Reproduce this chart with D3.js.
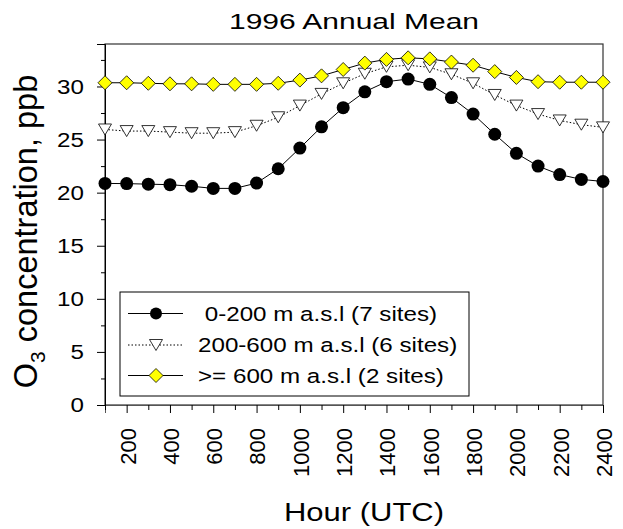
<!DOCTYPE html>
<html><head><meta charset="utf-8">
<script src="https://cdn.jsdelivr.net/npm/d3@7"></script>
<style>body{margin:0;background:#fff}svg{display:block}text{font-family:"Liberation Sans",Arial,sans-serif;fill:#000}</style>
</head><body><div id="chart"></div>
<script>
const hours = [100,200,300,400,500,600,700,800,900,1000,1100,1200,1300,1400,1500,1600,1700,1800,1900,2000,2100,2200,2300,2400];
const low = [20.87,20.85,20.8,20.75,20.6,20.4,20.4,20.9,22.25,24.2,26.2,28.0,29.5,30.45,30.7,30.2,28.95,27.4,25.5,23.7,22.5,21.7,21.25,21.05];
const mid = [25.95,25.8,25.8,25.7,25.6,25.6,25.7,26.3,27.1,28.2,29.3,30.3,31.2,31.85,32.0,31.8,31.15,30.3,29.2,28.2,27.4,26.8,26.4,26.15];
const high = [30.35,30.35,30.3,30.25,30.25,30.2,30.2,30.2,30.3,30.6,31.0,31.6,32.2,32.55,32.7,32.6,32.3,32.0,31.4,30.85,30.45,30.4,30.4,30.4];
const seriesNames = [" 0-200 m a.s.l (7 sites)","200-600 m a.s.l (6 sites)",">= 600 m a.s.l (2 sites)"];
const xTicks = [200,400,600,800,1000,1200,1400,1600,1800,2000,2200,2400];
const yTicks = [0,5,10,15,20,25,30];
const title = "1996 Annual Mean";

const W=623,H=529, SX=1.24;
const m={l:105,r:603,t:44,b:405};
const svg=d3.select("#chart").append("svg").attr("width",W).attr("height",H);
const x=d3.scaleLinear().domain([100,2400]).range([m.l,m.r]);
const y=d3.scaleLinear().domain([0,34]).range([m.b,m.t]);

// frame
svg.append("rect").attr("x",m.l).attr("y",m.t).attr("width",m.r-m.l).attr("height",m.b-m.t)
  .attr("fill","none").attr("stroke","#333").attr("stroke-width",1.2);

// y axis (ticks only; labels drawn stretched)
const yAx=svg.append("g").attr("transform",`translate(${m.l},0)`)
  .call(d3.axisLeft(y).tickValues(yTicks).tickSize(8).tickFormat(""));
yAx.select(".domain").attr("stroke","#000");
svg.append("g").attr("transform",`translate(${m.l},0)`)
  .call(d3.axisLeft(y).tickValues(d3.range(2.5,34,5)).tickSize(4).tickFormat(""))
  .select(".domain").remove();
svg.append("g").selectAll("text").data(yTicks).join("text")
  .attr("transform",d=>`translate(84,${y(d)}) scale(${SX},1)`)
  .attr("text-anchor","end").attr("dy","0.36em").style("font-size","19.5px").text(d=>d);

// x axis
const xAx=svg.append("g").attr("transform",`translate(0,${m.b})`)
  .call(d3.axisBottom(x).tickValues(xTicks).tickSize(8).tickFormat(""));
xAx.select(".domain").attr("stroke","#555");
svg.append("g").attr("transform",`translate(0,${m.b})`)
  .call(d3.axisBottom(x).tickValues(d3.range(100,2400,200)).tickSize(5).tickFormat(""))
  .select(".domain").remove();
svg.append("g").selectAll("text").data(xTicks).join("text")
  .attr("transform",d=>`translate(${x(d)+1},428) rotate(-90)`)
  .attr("text-anchor","end").attr("dy","0.36em").style("font-size","22px").text(d3.format("d"));

// lines
const line=d3.line().x((d,i)=>x(hours[i])).y(d=>y(d));
svg.append("path").datum(low).attr("d",line).attr("fill","none").attr("stroke","#000").attr("stroke-width",1);
svg.append("path").datum(mid).attr("d",line).attr("fill","none").attr("stroke","#000").attr("stroke-width",1).attr("stroke-dasharray","1.5,2");
svg.append("path").datum(high).attr("d",line).attr("fill","none").attr("stroke","#000").attr("stroke-width",1);

const tri="M-6.5,-5.5L6.5,-5.5L0,5.5Z";
const dia="M0,-7L7,0L0,7L-7,0Z";
svg.append("g").selectAll("circle").data(low).join("circle")
  .attr("cx",(d,i)=>x(hours[i])).attr("cy",d=>y(d)).attr("r",6.5).attr("fill","#000");
svg.append("g").selectAll("path").data(mid).join("path")
  .attr("d",tri).attr("transform",(d,i)=>`translate(${x(hours[i])},${y(d)})`)
  .attr("fill","#fff").attr("stroke","#000").attr("stroke-width",0.8);
svg.append("g").selectAll("path").data(high).join("path")
  .attr("d",dia).attr("transform",(d,i)=>`translate(${x(hours[i])},${y(d)})`)
  .attr("fill","#ffff00").attr("stroke","#000").attr("stroke-width",0.8);

// legend
const lg=svg.append("g");
lg.append("rect").attr("x",120).attr("y",292).attr("width",349).attr("height",104)
  .attr("fill","#fff").attr("stroke","#000").attr("stroke-width",1);
const rows=[313.5,345,375.5];
rows.forEach((ry,i)=>{
  const ln=lg.append("line").attr("x1",128).attr("x2",183).attr("y1",ry).attr("y2",ry).attr("stroke","#000");
  if(i===1) ln.attr("stroke-dasharray","1.5,2");
  if(i===0) lg.append("circle").attr("cx",156).attr("cy",ry).attr("r",6).attr("fill","#000");
  if(i===1) lg.append("path").attr("d",tri).attr("transform",`translate(156,${ry})`).attr("fill","#fff").attr("stroke","#000").attr("stroke-width",0.8);
  if(i===2) lg.append("path").attr("d",dia).attr("transform",`translate(156,${ry})`).attr("fill","#ffff00").attr("stroke","#000").attr("stroke-width",0.8);
  lg.append("text").attr("transform",`translate(198,${ry}) scale(${SX},1)`).attr("dy","0.36em")
    .style("font-size","19.5px").style("white-space","pre").attr("xml:space","preserve").text(seriesNames[i]);
});

// titles
svg.append("text").attr("x",354).attr("y",28.5).attr("text-anchor","middle").style("font-size","21.5px")
  .attr("textLength",250).attr("lengthAdjust","spacingAndGlyphs").text(title);
svg.append("text").attr("transform",`translate(364,521) scale(${SX},1)`).attr("text-anchor","middle").style("font-size","25px").text("Hour (UTC)");
const yt=svg.append("text").attr("transform",`translate(37,231.5) rotate(-90)`).attr("text-anchor","middle").style("font-size","32.5px");
yt.append("tspan").text("O");
yt.append("tspan").attr("dy",8).style("font-size","21px").text("3");
yt.append("tspan").attr("dy",-8).text(" concentration, ppb");
</script></body></html>
